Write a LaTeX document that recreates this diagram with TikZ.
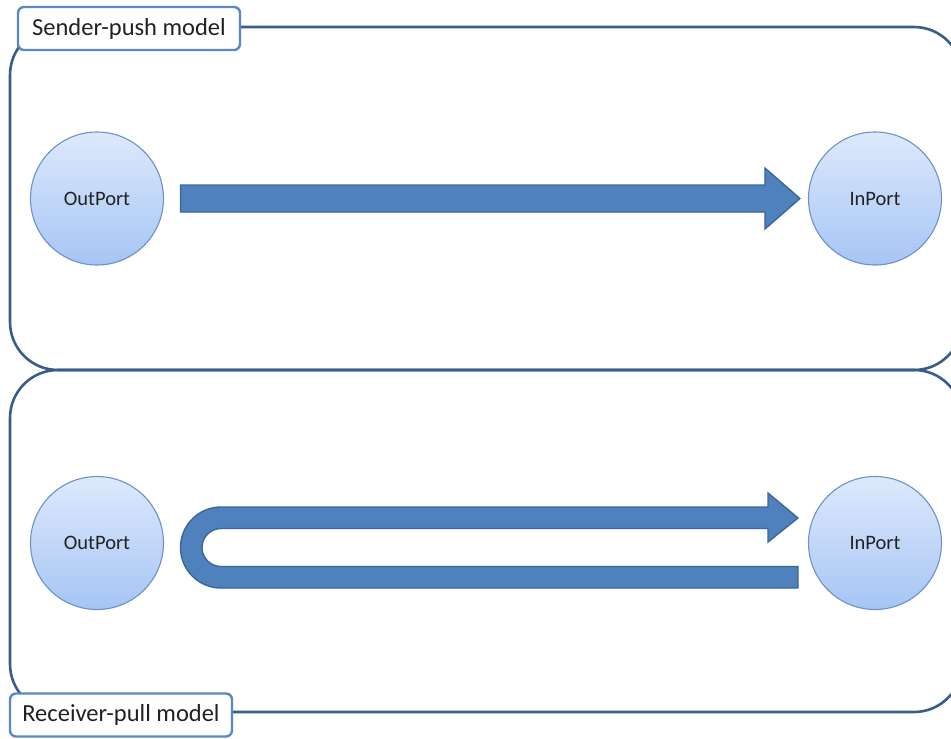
\documentclass[tikz,border=0pt]{standalone}
\usepackage{fontspec}
\setmainfont{Carlito}
\usetikzlibrary{calc}
\definecolor{frameblue}{HTML}{385D8A}
\definecolor{tagblue}{HTML}{5B88C4}
\definecolor{arrowfill}{HTML}{4F81BD}
\definecolor{arrowedge}{HTML}{3C6699}
\definecolor{porttop}{HTML}{DDE9FC}
\definecolor{portbot}{HTML}{A6C5F4}
\definecolor{portedge}{HTML}{6C92C8}
\definecolor{ink}{HTML}{222222}
\tikzset{
  modelframe/.style={draw=frameblue, line width=2.6pt, rounded corners=48},
  modeltag/.style={draw=tagblue, line width=2.4pt, fill=white, rounded corners=6,
    minimum width=222, minimum height=43, inner sep=0pt, text=ink,
    font=\fontsize{24.5}{29}\selectfont},
  port/.style={circle, minimum size=133, inner sep=0pt, draw=portedge, line width=1.1pt,
    top color=porttop, bottom color=portbot, text=ink,
    font=\fontsize{20.5}{24}\selectfont},
  blockarrow/.style={fill=arrowfill, draw=arrowedge, line width=1.4pt, line join=miter}
}
\begin{document}
\begin{tikzpicture}[x=1pt, y=-1pt]
  \useasboundingbox (0,0) rectangle (951,739);
  \clip (0,0) rectangle (951,739);
  \fill[white] (0,0) rectangle (951,739);

  % the two model frames (their right side runs past the page edge)
  \draw[modelframe] (10,27) rectangle (962,370);
  \draw[modelframe] (10,370) rectangle (962,712);

  % ports
  \node[port] (out1) at (97,198.5) {OutPort};
  \node[port] (in1)  at (875,198.5) {InPort};
  \node[port] (out2) at (97,543) {OutPort};
  \node[port] (in2)  at (875,543) {InPort};

  % sender-push: straight block arrow from OutPort to InPort
  \coordinate (pushstart) at ($(out1.east)+(16.5,0)$);
  \coordinate (pushtip)   at ($(in1.west)+(-8,0)$);
  \draw[blockarrow]
    ($(pushstart)+(0,-13.5)$) -- ($(pushtip)+(-35,-13.5)$) -- ($(pushtip)+(-35,-30.5)$)
    -- (pushtip) -- ($(pushtip)+(-35,30.5)$) -- ($(pushtip)+(-35,13.5)$)
    -- ($(pushstart)+(0,13.5)$) -- cycle;

  % receiver-pull: request goes out to OutPort and the data comes back to InPort
  \coordinate (pullturn) at (221,547.5);
  \coordinate (pulltip)  at ($(in2.west)+(-10,-25)$);
  \draw[blockarrow]
    (798,588) -- (221,588) arc[start angle=90, end angle=270, radius=40.5]
    -- (768,507) -- (768,493) -- (pulltip) -- (768,542) -- (768,528.5)
    -- (221,528.5) arc[start angle=270, end angle=90, radius=19]
    -- (798,566.5) -- cycle;

  % model captions
  \node[modeltag] (push) at (129,28.5) {Sender-push model};
  \node[modeltag] (pull) at (121,715) {Receiver-pull model};
\end{tikzpicture}
\end{document}
